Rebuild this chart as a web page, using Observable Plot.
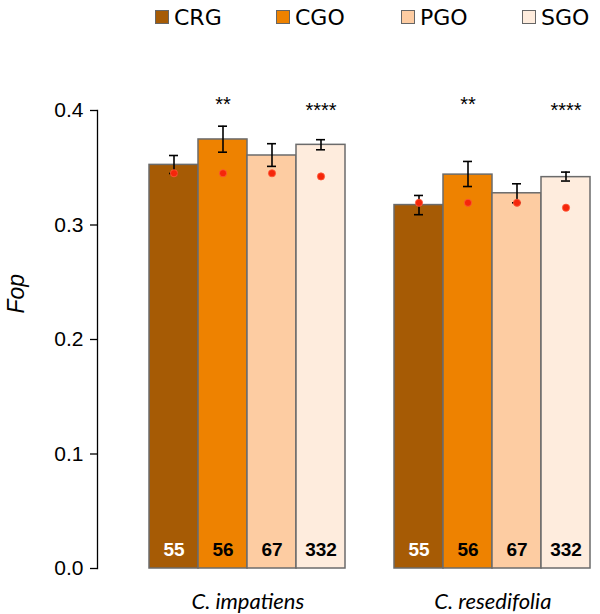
<!DOCTYPE html>
<html>
<head>
<meta charset="utf-8">
<script src="https://cdn.jsdelivr.net/npm/d3@7"></script>
<script src="https://cdn.jsdelivr.net/npm/@observablehq/plot@0.6"></script>
<style>
  html, body { margin: 0; padding: 0; background: #fff; }
  #legend { position: relative; height: 40px; width: 600px; font-family: "DejaVu Sans", sans-serif; font-size: 22px; color: #000; }
  .item { position: absolute; top: 4px; display: flex; align-items: center; height: 26px; }
  .sw { width: 12px; height: 12px; border: 1.5px solid #666; margin-right: 5px; }
</style>
</head>
<body>
<div id="legend"></div>
<div id="chart"></div>
<script>
const species = ["C. impatiens", "C. resedifolia"];
const categories = ["CRG", "CGO", "PGO", "SGO"];
const colors = ["#a65b05", "#ee8200", "#fdcca2", "#feecdd"];
const countColors = ["#ffffff", "#000000", "#000000", "#000000"];
const counts = [55, 56, 67, 332];
const signif = ["", "**", "", "****"];
// values per species, in category order
const means = [[0.3525, 0.3747, 0.3607, 0.3700], [0.3174, 0.3440, 0.3277, 0.3418]];
const errLo = [[0.3450, 0.3636, 0.3512, 0.3657], [0.3090, 0.3336, 0.3194, 0.3384]];
const errHi = [[0.3607, 0.3863, 0.3710, 0.3745], [0.3258, 0.3555, 0.3360, 0.3462]];
const reference = [[0.3452, 0.3452, 0.3452, 0.3424], [0.3194, 0.3194, 0.3194, 0.3151]];
const yTicks = [0, 0.1, 0.2, 0.3, 0.4];

const key = (s, c) => s + "|" + c;
const rows = [];
species.forEach((s, i) => categories.forEach((c, j) => rows.push({
  species: s, category: c, key: key(s, c), mean: means[i][j], lo: errLo[i][j], hi: errHi[i][j],
  ref: reference[i][j], n: counts[j], sig: signif[j], fill: colors[j], tc: countColors[j]
})));
const domain = [...categories.map(c => key(species[0], c)), "gap", ...categories.map(c => key(species[1], c))];

// legend
const legend = document.getElementById("legend");
const lx = [155, 276, 401, 522];
categories.forEach((c, j) => {
  const d = document.createElement("div");
  d.className = "item";
  d.style.left = lx[j] + "px";
  d.innerHTML = `<span class="sw" style="background:${colors[j]}"></span><span>${c}</span>`;
  legend.appendChild(d);
});

const x0 = 146, x1 = 593;
const bw = (x1 - x0) / domain.length;

const chart = Plot.plot({
  width: 600,
  height: 574,
  marginLeft: 97,
  marginRight: 7,
  marginTop: 70,
  marginBottom: 46,
  style: { fontFamily: "Liberation Sans, Arial, sans-serif", fontSize: "21px", background: "#fff" },
  x: { type: "band", domain, range: [x0, x1], padding: 0, axis: null },
  y: { domain: [0, 0.4], ticks: yTicks, tickFormat: d3.format(".1f") },
  marks: [
    Plot.barY(rows, { x: "key", y: "mean", fill: "fill", stroke: "#6b6b6b", strokeWidth: 1.5 }),
    Plot.ruleX(rows, { x: "key", y1: "lo", y2: "hi", stroke: "#000", strokeWidth: 1.6 }),
    Plot.tickY(rows, { x: "key", y: "lo", stroke: "#000", strokeWidth: 1.6, insetLeft: 20, insetRight: 20 }),
    Plot.tickY(rows, { x: "key", y: "hi", stroke: "#000", strokeWidth: 1.6, insetLeft: 20, insetRight: 20 }),
    Plot.dot(rows, { x: "key", y: "ref", r: 3.6, fill: "#f5260a", stroke: "#ff5a3a", strokeWidth: 0.8 }),
    Plot.text(rows.filter(d => d.sig.length === 2), { x: "key", y: 0.4, text: "sig", lineAnchor: "middle", dy: -6, fontSize: 20, letterSpacing: 1, fill: "#000" }),
    Plot.text(rows.filter(d => d.sig.length === 4), { x: "key", y: 0.4, text: "sig", lineAnchor: "middle", dy: 0, fontSize: 20, letterSpacing: 1, fill: "#000" }),
    Plot.text(rows, { x: "key", y: 0, text: "n", dy: -19, fill: "tc", fontSize: 19, fontWeight: "bold" }),
    Plot.text(species, { x: s => key(s, "CGO"), y: 0, text: d => d, dx: bw / 2, dy: 33, fontSize: 22, fontStyle: "italic", fontFamily: "Lato, 'Open Sans', sans-serif", fill: "#000" }),
    Plot.axisY({ ticks: yTicks, tickFormat: d3.format(".1f"), tickSize: 7, tickPadding: 7, fontSize: 21, label: null, stroke: "#000", strokeWidth: 1.3 }),
    Plot.frame({ anchor: "left", stroke: "#000", strokeWidth: 1.3 }),
    Plot.text(["Fop"], { frameAnchor: "left", text: d => d, rotate: -90, dx: -81, dy: -26, fontSize: 23, fontStyle: "italic", fill: "#000" })
  ]
});
document.getElementById("chart").appendChild(chart);
</script>
</body>
</html>
